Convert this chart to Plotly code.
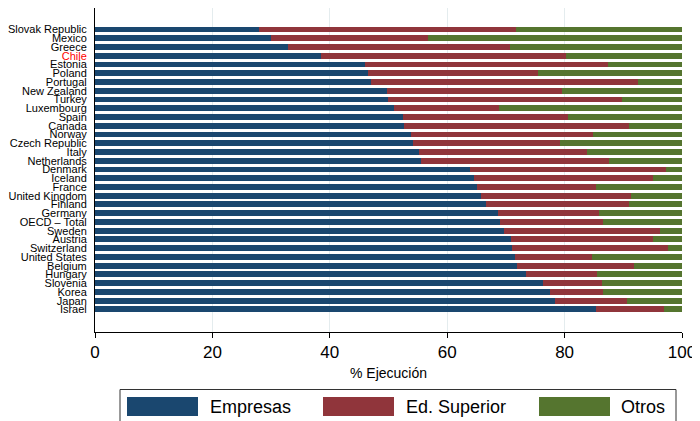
import plotly.graph_objects as go

countries = [
    "Slovak Republic", "Mexico", "Greece", "Chile", "Estonia", "Poland", "Portugal",
    "New Zealand", "Turkey", "Luxembourg", "Spain", "Canada", "Norway", "Czech Republic",
    "Italy", "Netherlands", "Denmark", "Iceland", "France", "United Kingdom", "Finland",
    "Germany", "OECD – Total", "Sweden", "Austria", "Switzerland", "United States",
    "Belgium", "Hungary", "Slovenia", "Korea", "Japan", "Israel",
]
empresas = [27.9, 30.0, 32.8, 38.5, 46.0, 46.5, 47.0, 49.7, 49.9, 50.9, 52.5, 52.6, 53.8,
            54.2, 55.2, 55.5, 63.9, 64.6, 65.1, 65.8, 66.6, 68.7, 69.0, 69.7, 70.9, 71.0,
            71.5, 71.9, 73.4, 76.3, 77.5, 78.4, 85.3]
ed_superior = [43.8, 26.7, 37.9, 41.7, 41.4, 28.9, 45.5, 29.9, 39.8, 17.9, 28.1, 38.4, 31.0,
               25.0, 28.6, 32.1, 33.4, 30.5, 20.2, 25.5, 24.4, 17.2, 17.5, 26.6, 24.2, 26.6,
               13.2, 19.9, 12.1, 10.1, 9.0, 12.2, 11.6]
otros = [28.3, 43.3, 29.3, 19.8, 12.6, 24.6, 7.5, 20.4, 10.3, 31.2, 19.4, 9.0, 15.2,
         20.8, 16.2, 12.4, 2.7, 4.9, 14.7, 8.7, 9.0, 14.1, 13.5, 3.7, 4.9, 2.4,
         15.3, 8.2, 14.5, 13.6, 13.5, 9.4, 3.1]
series_names = ["Empresas", "Ed. Superior", "Otros"]
series_colors = ["#1a476f", "#90353b", "#55752f"]
highlight = "Chile"
x_ticks = [0, 20, 40, 60, 80, 100]

positions = list(range(len(countries)))
tick_text = [f'<span style="color:#ff0000">{c}</span>' if c == highlight else c for c in countries]

fig = go.Figure()
for name, vals, col in zip(series_names, [empresas, ed_superior, otros], series_colors):
    fig.add_trace(go.Bar(
        y=positions, x=vals, name=name, orientation="h",
        marker=dict(color=col, line=dict(width=0)), width=0.68, showlegend=False,
    ))

W, H = 700, 421
OFF = 8  # page offset of the figure inside the browser window
L, R, T, B = 87, 26, 0, 97
pw, ph = W - L - R, H - T - B

def px_x(p):
    return (p - OFF - L) / pw

def px_y(p):
    return (H - B - (p - OFF)) / ph

shapes = [dict(type="rect", xref="paper", yref="paper",
               x0=px_x(120), x1=px_x(676), y0=px_y(440), y1=px_y(389.5),
               line=dict(color="#333333", width=1), fillcolor="white", layer="above")]
annotations = []
key_x = [127, 323, 539]
text_x = [208, 404, 619]
for kx, tx, name, col in zip(key_x, text_x, series_names, series_colors):
    shapes.append(dict(type="rect", xref="paper", yref="paper",
                       x0=px_x(kx), x1=px_x(kx + 71), y0=px_y(416), y1=px_y(397),
                       line=dict(width=0), fillcolor=col, layer="above"))
    annotations.append(dict(xref="paper", yref="paper", x=px_x(tx), y=px_y(406.5),
                            text=name, showarrow=False, xanchor="left", yanchor="middle",
                            font=dict(size=18, color="black", family="Liberation Sans, Arial")))

fig.update_layout(
    width=W, height=H, barmode="stack",
    margin=dict(l=L, r=R, t=T, b=B, autoexpand=False),
    paper_bgcolor="white", plot_bgcolor="white",
    font=dict(family="Liberation Sans, Arial", color="black"),
    shapes=shapes, annotations=annotations,
    xaxis=dict(
        range=[0, 100], tickvals=x_ticks, ticks="outside", ticklen=5, tickcolor="black",
        showline=True, linecolor="black", linewidth=1, showgrid=True, gridcolor="#e4ecee",
        gridwidth=1, zeroline=False, tickfont=dict(size=17), automargin=False,
        title=dict(text="% Ejecución", font=dict(size=14), standoff=6),
    ),
    yaxis=dict(
        range=[len(countries) - 1 + 2.58, -2.46], tickvals=positions, ticktext=tick_text,
        ticks="", showline=True, linecolor="black", linewidth=1, showgrid=False,
        zeroline=False, tickfont=dict(size=11), ticklabelstandoff=5, automargin=False,
    ),
)

fig.write_html("out.html")
